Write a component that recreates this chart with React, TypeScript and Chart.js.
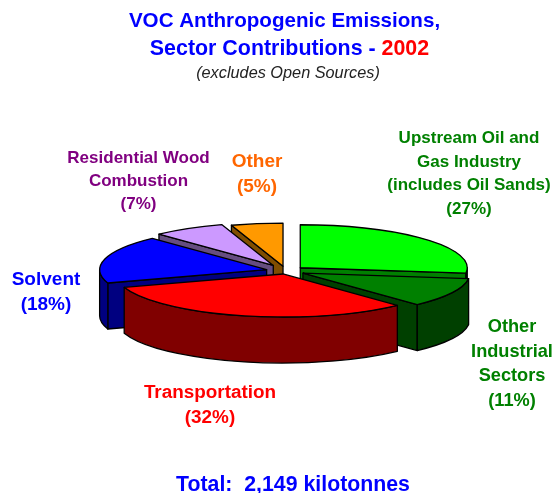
import React, { useEffect, useRef } from "react";
import { Chart, registerables } from "chart.js";

Chart.register(...registerables);

const sectorNames = [
  "Upstream Oil and Gas Industry (includes Oil Sands)",
  "Other Industrial Sectors",
  "Transportation",
  "Solvent",
  "Residential Wood Combustion",
  "Other",
];
const sectorShares = [27, 11, 32, 18, 7, 5];
const topColors = ["#00FF00", "#008000", "#FF0000", "#0000FF", "#CC99FF", "#FF9900"];
const wallColors = ["#008000", "#004000", "#800000", "#000080", "#664D80", "#804D00"];
const explodeBy = [19, 19, 12, 20, 25, 19];
const labelColors = ["#008000", "#008000", "#FF0000", "#0000FF", "#800080", "#FF6600"];
const labelLines = [
  ["Upstream Oil and", "Gas Industry", "(includes Oil Sands)"],
  ["Other", "Industrial", "Sectors"],
  ["Transportation"],
  ["Solvent"],
  ["Residential Wood", "Combustion"],
  ["Other"],
];
const labelAnchors = [
  [469, 143, 23.5],
  [512, 332, 24.7],
  [210, 398, 25],
  [46, 285, 25],
  [138.5, 163, 23],
  [257, 167, 25],
];
const labelSizes = [17, 18.2, 18.9, 19, 17, 19];
const titleLine1 = "VOC Anthropogenic Emissions,";
const titleLine2 = "Sector Contributions - ";
const titleYear = "2002";
const subtitle = "(excludes Open Sources)";
const totalLine = "Total:  2,149 kilotonnes";

const TILT = 0.2575;
const DEPTH = 46;
const FONT = '"Liberation Sans", Arial, sans-serif';

const pie3d = {
  id: "pie3d",
  beforeDatasetDraw(chart: any) {
    const ctx = chart.ctx;
    const arcs = chart.getDatasetMeta(0).data.map((el: any, i: number) => {
      const mid = (el.startAngle + el.endAngle) / 2;
      const o = el.options.offset;
      return {
        i,
        a0: el.startAngle,
        a1: el.endAngle,
        r: el.outerRadius,
        mid,
        cx: el.x + Math.cos(mid) * o,
        cy: el.y + Math.sin(mid) * o * TILT,
      };
    });
    arcs.sort((p: any, q: any) => Math.sin(p.mid) - Math.sin(q.mid));
    ctx.save();
    ctx.lineWidth = 1.3;
    ctx.lineJoin = "round";
    ctx.strokeStyle = "#000000";
    for (const s of arcs) {
      const ry = s.r * TILT;
      const px = (a: number) => s.cx + s.r * Math.cos(a);
      const py = (a: number) => s.cy + ry * Math.sin(a);
      ctx.fillStyle = wallColors[s.i];
      // radial faces that look towards the viewer
      const faces: number[] = [];
      if (Math.sin(s.a0 - Math.PI / 2) > 1e-6) faces.push(s.a0);
      if (Math.sin(s.a1 + Math.PI / 2) > 1e-6) faces.push(s.a1);
      for (const a of faces) {
        ctx.beginPath();
        ctx.moveTo(s.cx, s.cy);
        ctx.lineTo(px(a), py(a));
        ctx.lineTo(px(a), py(a) + DEPTH);
        ctx.lineTo(s.cx, s.cy + DEPTH);
        ctx.closePath();
        ctx.fill();
        ctx.stroke();
      }
      // outer wall, front half only
      const front0 = Math.max(s.a0, 0);
      const front1 = Math.min(s.a1, Math.PI);
      if (front1 > front0) {
        ctx.beginPath();
        ctx.ellipse(s.cx, s.cy, s.r, ry, 0, front0, front1);
        ctx.lineTo(px(front1), py(front1) + DEPTH);
        ctx.ellipse(s.cx, s.cy + DEPTH, s.r, ry, 0, front1, front0, true);
        ctx.closePath();
        ctx.fill();
        ctx.stroke();
      }
      // top face
      ctx.fillStyle = topColors[s.i];
      ctx.beginPath();
      ctx.moveTo(s.cx, s.cy);
      ctx.ellipse(s.cx, s.cy, s.r, ry, 0, s.a0, s.a1);
      ctx.closePath();
      ctx.fill();
      ctx.stroke();
    }
    ctx.restore();
    return false;
  },
  afterDraw(chart: any) {
    const ctx = chart.ctx;
    ctx.save();
    ctx.textAlign = "center";
    ctx.textBaseline = "alphabetic";
    // titles
    ctx.font = `bold 20.6px ${FONT}`;
    ctx.fillStyle = "#0000FF";
    ctx.fillText(titleLine1, 284.5, 27);
    ctx.font = `bold 21.4px ${FONT}`;
    const w2 = ctx.measureText(titleLine2).width;
    const wy = ctx.measureText(titleYear).width;
    const startX = 289.5 - (w2 + wy) / 2;
    ctx.textAlign = "left";
    ctx.fillText(titleLine2, startX, 55);
    ctx.fillStyle = "#FF0000";
    ctx.fillText(titleYear, startX + w2, 55);
    ctx.textAlign = "center";
    ctx.font = `italic 16.3px ${FONT}`;
    ctx.fillStyle = "#222222";
    ctx.fillText(subtitle, 288, 78);
    // slice labels
    labelLines.forEach((lines, i) => {
      const [x, y, step] = labelAnchors[i];
      ctx.font = `bold ${labelSizes[i]}px ${FONT}`;
      ctx.fillStyle = labelColors[i];
      [...lines, `(${sectorShares[i]}%)`].forEach((t, j) => {
        ctx.fillText(t, x, y + j * step);
      });
    });
    ctx.font = `bold 21.3px ${FONT}`;
    ctx.fillStyle = "#0000FF";
    ctx.fillText(totalLine, 293, 491);
    ctx.restore();
  },
};

export default function App() {
  const ref = useRef<HTMLCanvasElement>(null);
  useEffect(() => {
    const chart = new Chart(ref.current!, {
      type: "pie",
      data: {
        labels: sectorNames,
        datasets: [
          {
            data: sectorShares,
            backgroundColor: topColors,
            offset: explodeBy,
            clip: false,
          } as any,
        ],
      },
      options: {
        animation: false,
        responsive: false,
        radius: 167,
        layout: { padding: { left: 17, top: 49 } },
        plugins: { legend: { display: false }, tooltip: { enabled: false } },
      } as any,
      plugins: [pie3d],
    });
    return () => chart.destroy();
  }, []);
  return (
    <canvas
      ref={ref}
      width={555}
      height={493}
      style={{ position: "absolute", left: 0, top: 0, width: 555, height: 493 }}
    />
  );
}
